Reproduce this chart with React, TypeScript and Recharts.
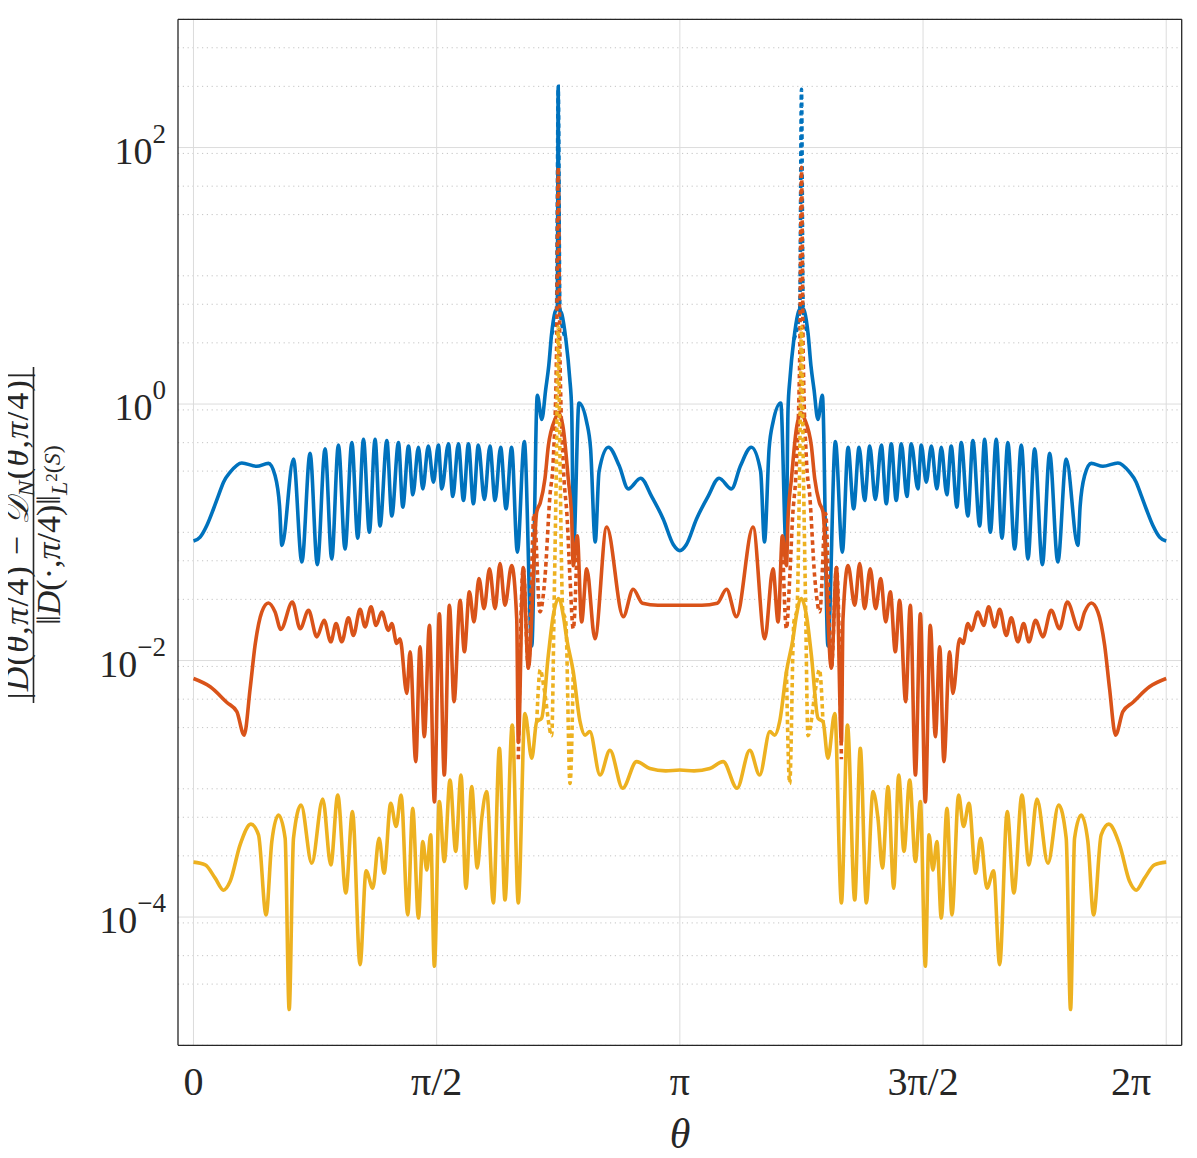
import React from "react";
import { LineChart, Line, XAxis, YAxis, CartesianGrid } from "recharts";

type Pt = [number, number];
const PI = Math.PI;

const blueHalf: Pt[] = [
  [0, 0.0855], [0.043, 0.0918], [0.086, 0.113], [0.129, 0.152], [0.161, 0.193], [0.194, 0.246],
  [0.237, 0.294], [0.312, 0.347], [0.409, 0.327], [0.484, 0.345], [0.527, 0.277], [0.556, 0.16],
  [0.571, 0.079], [0.646, 0.373], [0.7, 0.0586], [0.753, 0.413], [0.8, 0.056], [0.85, 0.447],
  [0.893, 0.062], [0.936, 0.48], [0.979, 0.074], [1.023, 0.5], [1.061, 0.09], [1.098, 0.53],
  [1.136, 0.1], [1.173, 0.53], [1.205, 0.112], [1.249, 0.52], [1.281, 0.134], [1.324, 0.5],
  [1.352, 0.157], [1.389, 0.47], [1.417, 0.196], [1.453, 0.46], [1.481, 0.218], [1.517, 0.47],
  [1.55, 0.246], [1.582, 0.48], [1.604, 0.218], [1.647, 0.49], [1.675, 0.19], [1.711, 0.49],
  [1.744, 0.177], [1.776, 0.49], [1.808, 0.167], [1.84, 0.48], [1.879, 0.18], [1.915, 0.47],
  [1.948, 0.177], [1.984, 0.46], [2.019, 0.152], [2.055, 0.46], [2.092, 0.07], [2.137, 0.51],
  [2.185, 0.013], [2.221, 1.17], [2.25, 0.76], [2.275, 1.3], [2.295, 2.0], [2.313, 3.5],
  [2.335, 5.2], [2.35, 5.6], [2.362, 5.6], [2.38, 5.0], [2.405, 3.2], [2.43, 1.6], [2.443, 0.9],
  [2.455, 0.075], [2.49, 1.02], [2.54, 0.72], [2.565, 0.45], [2.595, 0.084], [2.62, 0.3],
  [2.68, 0.46], [2.75, 0.33], [2.808, 0.218], [2.888, 0.264], [2.96, 0.19], [3.034, 0.127],
  [3.1, 0.08], [PI, 0.072],
];
// the solid blue curve also spikes at 3pi/4 (left side only)
const blueSolidSpike: Pt[] = [[2.356, 300]];

const orangeHalf: Pt[] = [
  [0, 0.00724], [0.108, 0.00624], [0.216, 0.00471], [0.28, 0.00399], [0.327, 0.00262],
  [0.366, 0.00605], [0.398, 0.0132], [0.441, 0.0239], [0.484, 0.0281], [0.527, 0.0239],
  [0.564, 0.0175], [0.639, 0.0286], [0.689, 0.0177], [0.743, 0.0246], [0.797, 0.0153],
  [0.844, 0.0206], [0.887, 0.014], [0.921, 0.0194], [0.958, 0.014], [1.001, 0.0215],
  [1.033, 0.0157], [1.076, 0.0251], [1.108, 0.0183], [1.147, 0.0262], [1.179, 0.0188],
  [1.216, 0.0239], [1.259, 0.0172], [1.281, 0.0194], [1.313, 0.0136], [1.334, 0.0148],
  [1.378, 0.00554], [1.399, 0.0117], [1.436, 0.00163], [1.463, 0.0128], [1.491, 0.00255],
  [1.524, 0.0188], [1.556, 0.00079], [1.588, 0.0232], [1.62, 0.00128], [1.653, 0.027],
  [1.683, 0.00477], [1.722, 0.0295], [1.75, 0.0117], [1.782, 0.0343], [1.812, 0.02],
  [1.844, 0.0435], [1.877, 0.0254], [1.912, 0.052], [1.948, 0.0254], [1.98, 0.057],
  [2.012, 0.027], [2.055, 0.055], [2.088, 0.021], [2.098, 0.0023], [2.13, 0.053],
  [2.163, 0.0087], [2.217, 0.144], [2.24, 0.17], [2.27, 0.26], [2.292, 0.47], [2.335, 0.76],
  [2.357, 0.86], [2.389, 0.64], [2.421, 0.26], [2.443, 0.127], [2.453, 0.055], [2.479, 0.094],
  [2.507, 0.02], [2.54, 0.052], [2.593, 0.0148], [2.669, 0.11], [2.776, 0.022], [2.84, 0.036],
  [2.9, 0.028], [3.0, 0.027], [PI, 0.027],
];

const yellowHalf: Pt[] = [
  [0, 2.68e-4], [0.076, 2.55e-4], [0.14, 2.01e-4], [0.194, 1.62e-4], [0.237, 1.9e-4],
  [0.301, 3.66e-4], [0.371, 5.3e-4], [0.42, 4.37e-4], [0.469, 1.04e-4], [0.506, 3.88e-4],
  [0.549, 6.25e-4], [0.592, 4.12e-4], [0.618, 1.9e-5], [0.646, 4.12e-4], [0.695, 7.48e-4],
  [0.764, 2.63e-4], [0.835, 8.33e-4], [0.887, 2.55e-4], [0.932, 8.95e-4], [0.984, 1.54e-4],
  [1.027, 6.65e-4], [1.076, 4.26e-5], [1.115, 2.29e-4], [1.158, 1.68e-4], [1.199, 4.12e-4],
  [1.231, 2.2e-4], [1.274, 7.71e-4], [1.309, 5.08e-4], [1.341, 8.95e-4], [1.384, 1.04e-4],
  [1.416, 7.05e-4], [1.453, 9.82e-5], [1.481, 3.88e-4], [1.507, 2.33e-4], [1.532, 4.37e-4],
  [1.556, 4.13e-5], [1.588, 7.94e-4], [1.62, 2.71e-4], [1.657, 1.17e-3], [1.694, 3.25e-4],
  [1.728, 1.28e-3], [1.76, 1.68e-4], [1.797, 1.04e-3], [1.833, 2.41e-4], [1.862, 5.89e-4],
  [1.894, 9.51e-4], [1.937, 1.29e-4], [1.976, 2.07e-3], [2.012, 1.36e-4], [2.059, 3.14e-3],
  [2.098, 1.29e-4], [2.141, 3.87e-3], [2.185, 1.73e-3], [2.217, 3.34e-3], [2.249, 3.55e-3],
  [2.292, 0.011], [2.324, 0.0225], [2.357, 0.0304], [2.39, 0.022], [2.41, 0.015],
  [2.453, 8.2e-3], [2.497, 3.34e-3], [2.529, 2.62e-3], [2.56, 2.8e-3], [2.626, 1.28e-3],
  [2.69, 2.0e-3], [2.772, 1.01e-3], [2.862, 1.63e-3], [2.948, 1.44e-3], [3.05, 1.38e-3],
  [PI, 1.4e-3],
];

// dotted curves, only where they leave the solid ones (round 3pi/4, mirrored to 5pi/4)
const blueDotted: Pt[] = [[2.313, 3.5], [2.345, 5.5], [2.356, 285], [2.367, 5.5], [2.405, 3.2]];
const orangeDotted: Pt[] = [
  [2.098, 0.0017], [2.13, 0.053], [2.163, 0.0087], [2.2, 0.14], [2.238, 0.024], [2.27, 0.044],
  [2.302, 0.19], [2.324, 0.37], [2.345, 2.5], [2.356, 70], [2.367, 2.5], [2.389, 0.33],
  [2.414, 0.127], [2.432, 0.044], [2.453, 0.0177], [2.479, 0.094],
];
const yellowDotted: Pt[] = [
  [2.217, 0.0033], [2.24, 0.0085], [2.265, 0.006], [2.314, 0.0026], [2.33, 0.03], [2.345, 0.4],
  [2.356, 4.0], [2.367, 0.4], [2.385, 0.025], [2.405, 0.02], [2.432, 0.0011], [2.453, 0.0082],
];

const xTicks = [0, PI / 2, PI, (3 * PI) / 2, 2 * PI];
const xTickLabels = ["0", "π/2", "π", "3π/2", "2π"];
const yMajor = [1e-4, 1e-2, 1, 1e2];
const yMajorExp = ["−4", "−2", "0", "2"];
const decades = [1e-5, 1e-4, 1e-3, 1e-2, 1e-1, 1, 10, 100];
const mantissas = [1, 2, 3, 4, 5, 6, 7, 8, 9];
const yMinor = decades
  .flatMap((d) => mantissas.map((m) => m * d))
  .concat([1e3])
  .filter((v) => !yMajor.some((M) => Math.abs(Math.log10(M) - Math.log10(v)) < 1e-9));

const mirrorHalf = (pts: Pt[]): Pt[] =>
  pts.filter(([t]) => t < PI - 1e-6).map(([t, v]) => [2 * PI - t, v] as Pt);
const rows = (pts: Pt[]) => [...pts].sort((a, b) => a[0] - b[0]).map(([t, v]) => ({ t, v }));

const blueSolid = rows([...blueHalf, ...blueSolidSpike, ...mirrorHalf(blueHalf)]);
const orangeSolid = rows([...orangeHalf, ...mirrorHalf(orangeHalf)]);
const yellowSolid = rows([...yellowHalf, ...mirrorHalf(yellowHalf)]);

const BLUE = "#0072BD";
const ORANGE = "#D95319";
const YELLOW = "#EDB120";
const AXIS = "#262626";
const FONT = "'Liberation Serif', 'DejaVu Serif', serif";
const xDomain = [-0.1, 2 * PI + 0.1];
const yDomain = [1e-5, 1e3];
const LW = 3.6;
const DOTS = "4.5 3.5";

const XTick = (props: any) => {
  const { x, y, payload } = props;
  const i = xTicks.findIndex((t) => Math.abs(t - payload.value) < 1e-6);
  return (
    <text x={x} y={y + 50} textAnchor="middle" fontSize={40} fontFamily={FONT} fill={AXIS}>
      {xTickLabels[i]}
    </text>
  );
};

const YTick = (props: any) => {
  const { x, y, payload } = props;
  const i = yMajor.findIndex((v) => Math.abs(Math.log10(v) - Math.log10(payload.value)) < 1e-6);
  return (
    <text x={x - 12} y={y + 16} textAnchor="end" fontFamily={FONT} fill={AXIS}>
      <tspan fontSize={38}>10</tspan>
      <tspan fontSize={27} dy={-21}>{yMajorExp[i]}</tspan>
    </text>
  );
};

const tickStroke = { stroke: AXIS, strokeWidth: 1.3 };

export default function App() {
  return (
    <div style={{ position: "relative", width: 1189, height: 1150 }}>
      <LineChart width={1189} height={1150} margin={{ top: 11.3, right: 15.3, bottom: 52.7, left: 20 }}>
        <CartesianGrid xAxisId="x" yAxisId="y" vertical={false} horizontalValues={yMinor}
          stroke="#c4c4c4" strokeDasharray="1.2 3.6" />
        <CartesianGrid xAxisId="x" yAxisId="y" horizontalValues={yMajor} verticalValues={xTicks}
          stroke="#dcdcdc" />
        <XAxis xAxisId="x" dataKey="t" type="number" domain={xDomain} allowDataOverflow ticks={xTicks}
          tick={(p: any) => <XTick {...p} />} tickLine={false} tickSize={0} tickMargin={0} height={60}
          axisLine={tickStroke} />
        <XAxis xAxisId="xIn" dataKey="t" type="number" domain={xDomain} allowDataOverflow ticks={xTicks}
          tick={false} tickSize={10} mirror height={1} axisLine={false} tickLine={tickStroke} />
        <XAxis xAxisId="xTop" dataKey="t" orientation="top" type="number" domain={xDomain} allowDataOverflow
          ticks={xTicks} tick={false} tickSize={10} mirror height={1} axisLine={tickStroke} tickLine={tickStroke} />
        <YAxis yAxisId="y" type="number" scale="log" domain={yDomain} allowDataOverflow ticks={yMajor}
          tick={(p: any) => <YTick {...p} />} tickLine={false} tickSize={0} tickMargin={0} width={150}
          axisLine={tickStroke} />
        <YAxis yAxisId="yIn" type="number" scale="log" domain={yDomain} allowDataOverflow ticks={yMajor}
          tick={false} tickSize={10} mirror width={1} axisLine={false} tickLine={tickStroke} />
        <YAxis yAxisId="yInMinor" type="number" scale="log" domain={yDomain} allowDataOverflow ticks={yMinor}
          tick={false} tickSize={5} mirror width={1} axisLine={false} tickLine={tickStroke} />
        <YAxis yAxisId="yR" orientation="right" type="number" scale="log" domain={yDomain} allowDataOverflow
          ticks={yMajor} tick={false} tickSize={10} mirror width={1} axisLine={tickStroke} tickLine={tickStroke} />
        <YAxis yAxisId="yRMinor" orientation="right" type="number" scale="log" domain={yDomain} allowDataOverflow
          ticks={yMinor} tick={false} tickSize={5} mirror width={1} axisLine={false} tickLine={tickStroke} />

        <Line xAxisId="x" yAxisId="y" type="monotone" data={blueSolid} dataKey="v" stroke={BLUE}
          strokeWidth={LW} dot={false} isAnimationActive={false} />
        <Line xAxisId="x" yAxisId="y" type="monotone" data={orangeSolid} dataKey="v" stroke={ORANGE}
          strokeWidth={LW} dot={false} isAnimationActive={false} />
        <Line xAxisId="x" yAxisId="y" type="monotone" data={yellowSolid} dataKey="v" stroke={YELLOW}
          strokeWidth={LW} dot={false} isAnimationActive={false} />

        <Line xAxisId="x" yAxisId="y" type="monotone" data={rows(blueDotted)} dataKey="v" stroke={BLUE}
          strokeWidth={LW} strokeDasharray={DOTS} dot={false} isAnimationActive={false} />
        <Line xAxisId="x" yAxisId="y" type="monotone" data={rows(mirrorHalf(blueDotted))} dataKey="v"
          stroke={BLUE} strokeWidth={LW} strokeDasharray={DOTS} dot={false} isAnimationActive={false} />
        <Line xAxisId="x" yAxisId="y" type="monotone" data={rows(orangeDotted)} dataKey="v" stroke={ORANGE}
          strokeWidth={LW} strokeDasharray={DOTS} dot={false} isAnimationActive={false} />
        <Line xAxisId="x" yAxisId="y" type="monotone" data={rows(mirrorHalf(orangeDotted))} dataKey="v"
          stroke={ORANGE} strokeWidth={LW} strokeDasharray={DOTS} dot={false} isAnimationActive={false} />
        <Line xAxisId="x" yAxisId="y" type="monotone" data={rows(yellowDotted)} dataKey="v" stroke={YELLOW}
          strokeWidth={LW} strokeDasharray={DOTS} dot={false} isAnimationActive={false} />
        <Line xAxisId="x" yAxisId="y" type="monotone" data={rows(mirrorHalf(yellowDotted))} dataKey="v"
          stroke={YELLOW} strokeWidth={LW} strokeDasharray={DOTS} dot={false} isAnimationActive={false} />
      </LineChart>

      <svg width={1189} height={1150}
        style={{ position: "absolute", left: 0, top: 0, pointerEvents: "none", overflow: "visible" }}>
        <text x={672} y={1140} textAnchor="middle" fontSize={42} fontStyle="italic" fontFamily={FONT} fill={AXIS}>
          θ
        </text>
        <g transform="translate(25.5 527) rotate(-90)" fontFamily={FONT} fill={AXIS}>
          <text x={0} y={-5.5} textAnchor="middle" fontSize={34} letterSpacing={1.3}>
            <tspan>|</tspan>
            <tspan fontStyle="italic">D</tspan>
            <tspan>(</tspan>
            <tspan fontStyle="italic">θ</tspan>
            <tspan>,</tspan>
            <tspan fontStyle="italic">π</tspan>
            <tspan>/4) − </tspan>
            <tspan fontStyle="italic">𝒟</tspan>
            <tspan fontStyle="italic" fontSize={24} dy={6}>N</tspan>
            <tspan dy={-6}>(</tspan>
            <tspan fontStyle="italic">θ</tspan>
            <tspan>,</tspan>
            <tspan fontStyle="italic">π</tspan>
            <tspan>/4)|</tspan>
          </text>
          <line x1={-168} x2={168} y1={0} y2={0} stroke={AXIS} strokeWidth={1.6} />
          <text x={0} y={26.5} textAnchor="middle" fontSize={34}>
            <tspan>‖</tspan>
            <tspan fontStyle="italic">D</tspan>
            <tspan>(·,</tspan>
            <tspan fontStyle="italic">π</tspan>
            <tspan>/4)‖</tspan>
            <tspan fontStyle="italic" fontSize={24} dy={7}>L</tspan>
            <tspan fontSize={17} dy={-10}>2</tspan>
            <tspan fontSize={24} dy={3}>(</tspan>
            <tspan fontSize={24} fontStyle="italic">S</tspan>
            <tspan fontSize={24}>)</tspan>
          </text>
        </g>
      </svg>
    </div>
  );
}
